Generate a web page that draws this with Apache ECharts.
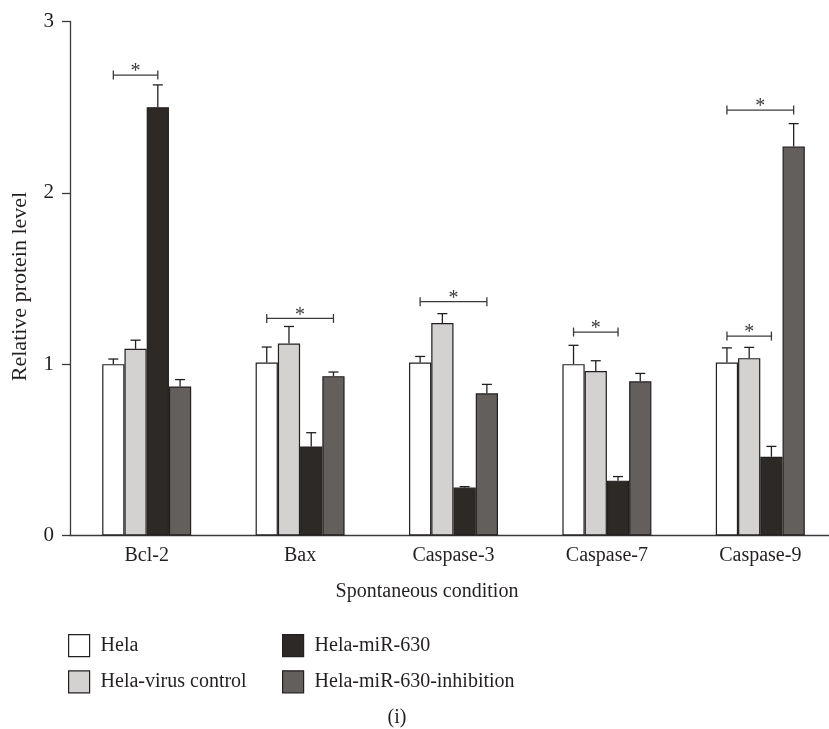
<!DOCTYPE html>
<html>
<head>
<meta charset="utf-8">
<style>html,body{margin:0;padding:0;background:#fff;}#chart{width:829px;height:729px;}</style>
<script src="https://cdn.jsdelivr.net/npm/echarts@6/dist/echarts.min.js"></script>
</head>
<body>
<div id="chart"></div>
<script>
const categories = ['Bcl-2', 'Bax', 'Caspase-3', 'Caspase-7', 'Caspase-9'];
const seriesNames = ['Hela', 'Hela-virus control', 'Hela-miR-630', 'Hela-miR-630-inhibition'];
const helaValues = [1.00, 1.01, 1.01, 1.00, 1.01];
const helaSD = [0.03, 0.09, 0.035, 0.11, 0.085];
const virusValues = [1.09, 1.12, 1.24, 0.96, 1.035];
const virusSD = [0.05, 0.10, 0.055, 0.06, 0.063];
const mirValues = [2.50, 0.52, 0.28, 0.32, 0.46];
const mirSD = [0.13, 0.08, 0.005, 0.024, 0.06];
const inhibValues = [0.87, 0.93, 0.83, 0.90, 2.27];
const inhibSD = [0.04, 0.024, 0.052, 0.046, 0.134];
// significance brackets: [category index, from group, to group, height]
const brackets = [[0, 0, 2, 2.6875], [1, 0, 3, 1.267], [2, 0, 3, 1.365], [3, 0, 2, 1.1875], [4, 0, 3, 2.483], [4, 0, 2, 1.164]];
const yTicks = [0, 1, 2, 3];

const colors = ['#ffffff', '#d3d2d0', '#2d2926', '#635f5d'];
const stroke = '#231f20';
const font = "'Liberation Serif', 'Times New Roman', serif";
const FS = 20;
const GAP = 0.42;
const values = [helaValues, virusValues, mirValues, inhibValues];
const sds = [helaSD, virusSD, mirSD, inhibSD];

function barCenter(api, cat, g) {
  const c = api.coord([cat, 0])[0];
  const band = api.size([1, 0])[0];
  const bw = band * (1 - GAP) / 4;
  return { x: c - 2 * bw + (g + 0.5) * bw, bw: bw };
}

const series = [];
seriesNames.forEach((name, g) => {
  series.push({
    name: name, type: 'bar', data: values[g], barGap: 0, barCategoryGap: (GAP * 100) + '%',
    itemStyle: { color: colors[g], borderColor: stroke, borderWidth: 1.2 }, z: 2
  });
});
seriesNames.forEach((name, g) => {
  series.push({
    type: 'custom', z: 3,
    data: values[g].map((v, i) => [i, v, v + sds[g][i]]),
    renderItem: function (params, api) {
      const cat = api.value(0);
      const p = barCenter(api, cat, g);
      const y0 = api.coord([cat, api.value(1)])[1];
      const y1 = api.coord([cat, api.value(2)])[1];
      const hw = 5;
      return {
        type: 'group', children: [
          { type: 'line', shape: { x1: p.x, y1: y0, x2: p.x, y2: y1 }, style: { stroke: stroke, lineWidth: 1.3 } },
          { type: 'line', shape: { x1: p.x - hw, y1: y1, x2: p.x + hw, y2: y1 }, style: { stroke: stroke, lineWidth: 1.3 } }
        ]
      };
    }
  });
});
series.push({
  type: 'custom', z: 4,
  data: brackets,
  renderItem: function (params, api) {
    const cat = api.value(0);
    const a = barCenter(api, cat, api.value(1)).x;
    const b = barCenter(api, cat, api.value(2)).x;
    const y = api.coord([cat, api.value(3)])[1];
    const s = { stroke: '#3a3a3a', lineWidth: 1.3 };
    return {
      type: 'group', children: [
        { type: 'line', shape: { x1: a, y1: y, x2: b, y2: y }, style: s },
        { type: 'line', shape: { x1: a, y1: y - 4.5, x2: a, y2: y + 4.5 }, style: s },
        { type: 'line', shape: { x1: b, y1: y - 4.5, x2: b, y2: y + 4.5 }, style: s },
        { type: 'text', style: { text: '*', x: (a + b) / 2, y: y - 3, align: 'center', verticalAlign: 'middle', font: FS + "px " + font, fill: '#3a3a3a' } }
      ]
    };
  }
});

const chart = echarts.init(document.getElementById('chart'), null, { renderer: 'canvas' });
chart.setOption({
  animation: false,
  backgroundColor: '#ffffff',
  grid: { left: 70, top: 21.5, width: 767, height: 514, containLabel: false, outerBoundsMode: 'none' },
  xAxis: {
    type: 'category', data: categories,
    axisLine: { lineStyle: { color: '#3a3a3a', width: 1.3 } },
    axisTick: { alignWithLabel: true, length: 8, lineStyle: { color: '#3a3a3a', width: 1.3 } },
    axisLabel: { color: stroke, fontFamily: font, fontSize: FS, margin: 10 }
  },
  yAxis: {
    type: 'value', min: yTicks[0], max: yTicks[yTicks.length - 1], interval: 1,
    name: 'Relative protein level', nameLocation: 'middle', nameGap: 39,
    nameTextStyle: { color: stroke, fontFamily: font, fontSize: 22, padding: [0, 16, 0, 0] },
    axisLine: { show: true, lineStyle: { color: '#3a3a3a', width: 1.3 } },
    axisTick: { show: true, length: 8, lineStyle: { color: '#3a3a3a', width: 1.3 } },
    axisLabel: { color: stroke, fontFamily: font, fontSize: 21, margin: 16 },
    splitLine: { show: false }
  },
  legend: [
    {
      data: [seriesNames[0], seriesNames[1]], orient: 'vertical', left: 68, top: 634, icon: 'rect',
      itemWidth: 21, itemHeight: 22, itemGap: 13, selectedMode: false, padding: 0,
      itemStyle: { borderWidth: 1.2 },
      textStyle: { color: stroke, fontFamily: font, fontSize: FS, padding: [0, 0, 0, 6] }
    },
    {
      data: [seriesNames[2], seriesNames[3]], orient: 'vertical', left: 282, top: 634, icon: 'rect',
      itemWidth: 21, itemHeight: 22, itemGap: 13, selectedMode: false, padding: 0,
      itemStyle: { borderWidth: 1.2 },
      textStyle: { color: stroke, fontFamily: font, fontSize: FS, padding: [0, 0, 0, 6] }
    }
  ],
  graphic: [
    { type: 'text', x: 427, y: 592, style: { text: 'Spontaneous condition', align: 'center', verticalAlign: 'middle', font: FS + 'px ' + font, fill: stroke } },
    { type: 'text', x: 397, y: 718, style: { text: '(i)', align: 'center', verticalAlign: 'middle', font: FS + 'px ' + font, fill: stroke } }
  ],
  series: series
});
</script>
</body>
</html>
